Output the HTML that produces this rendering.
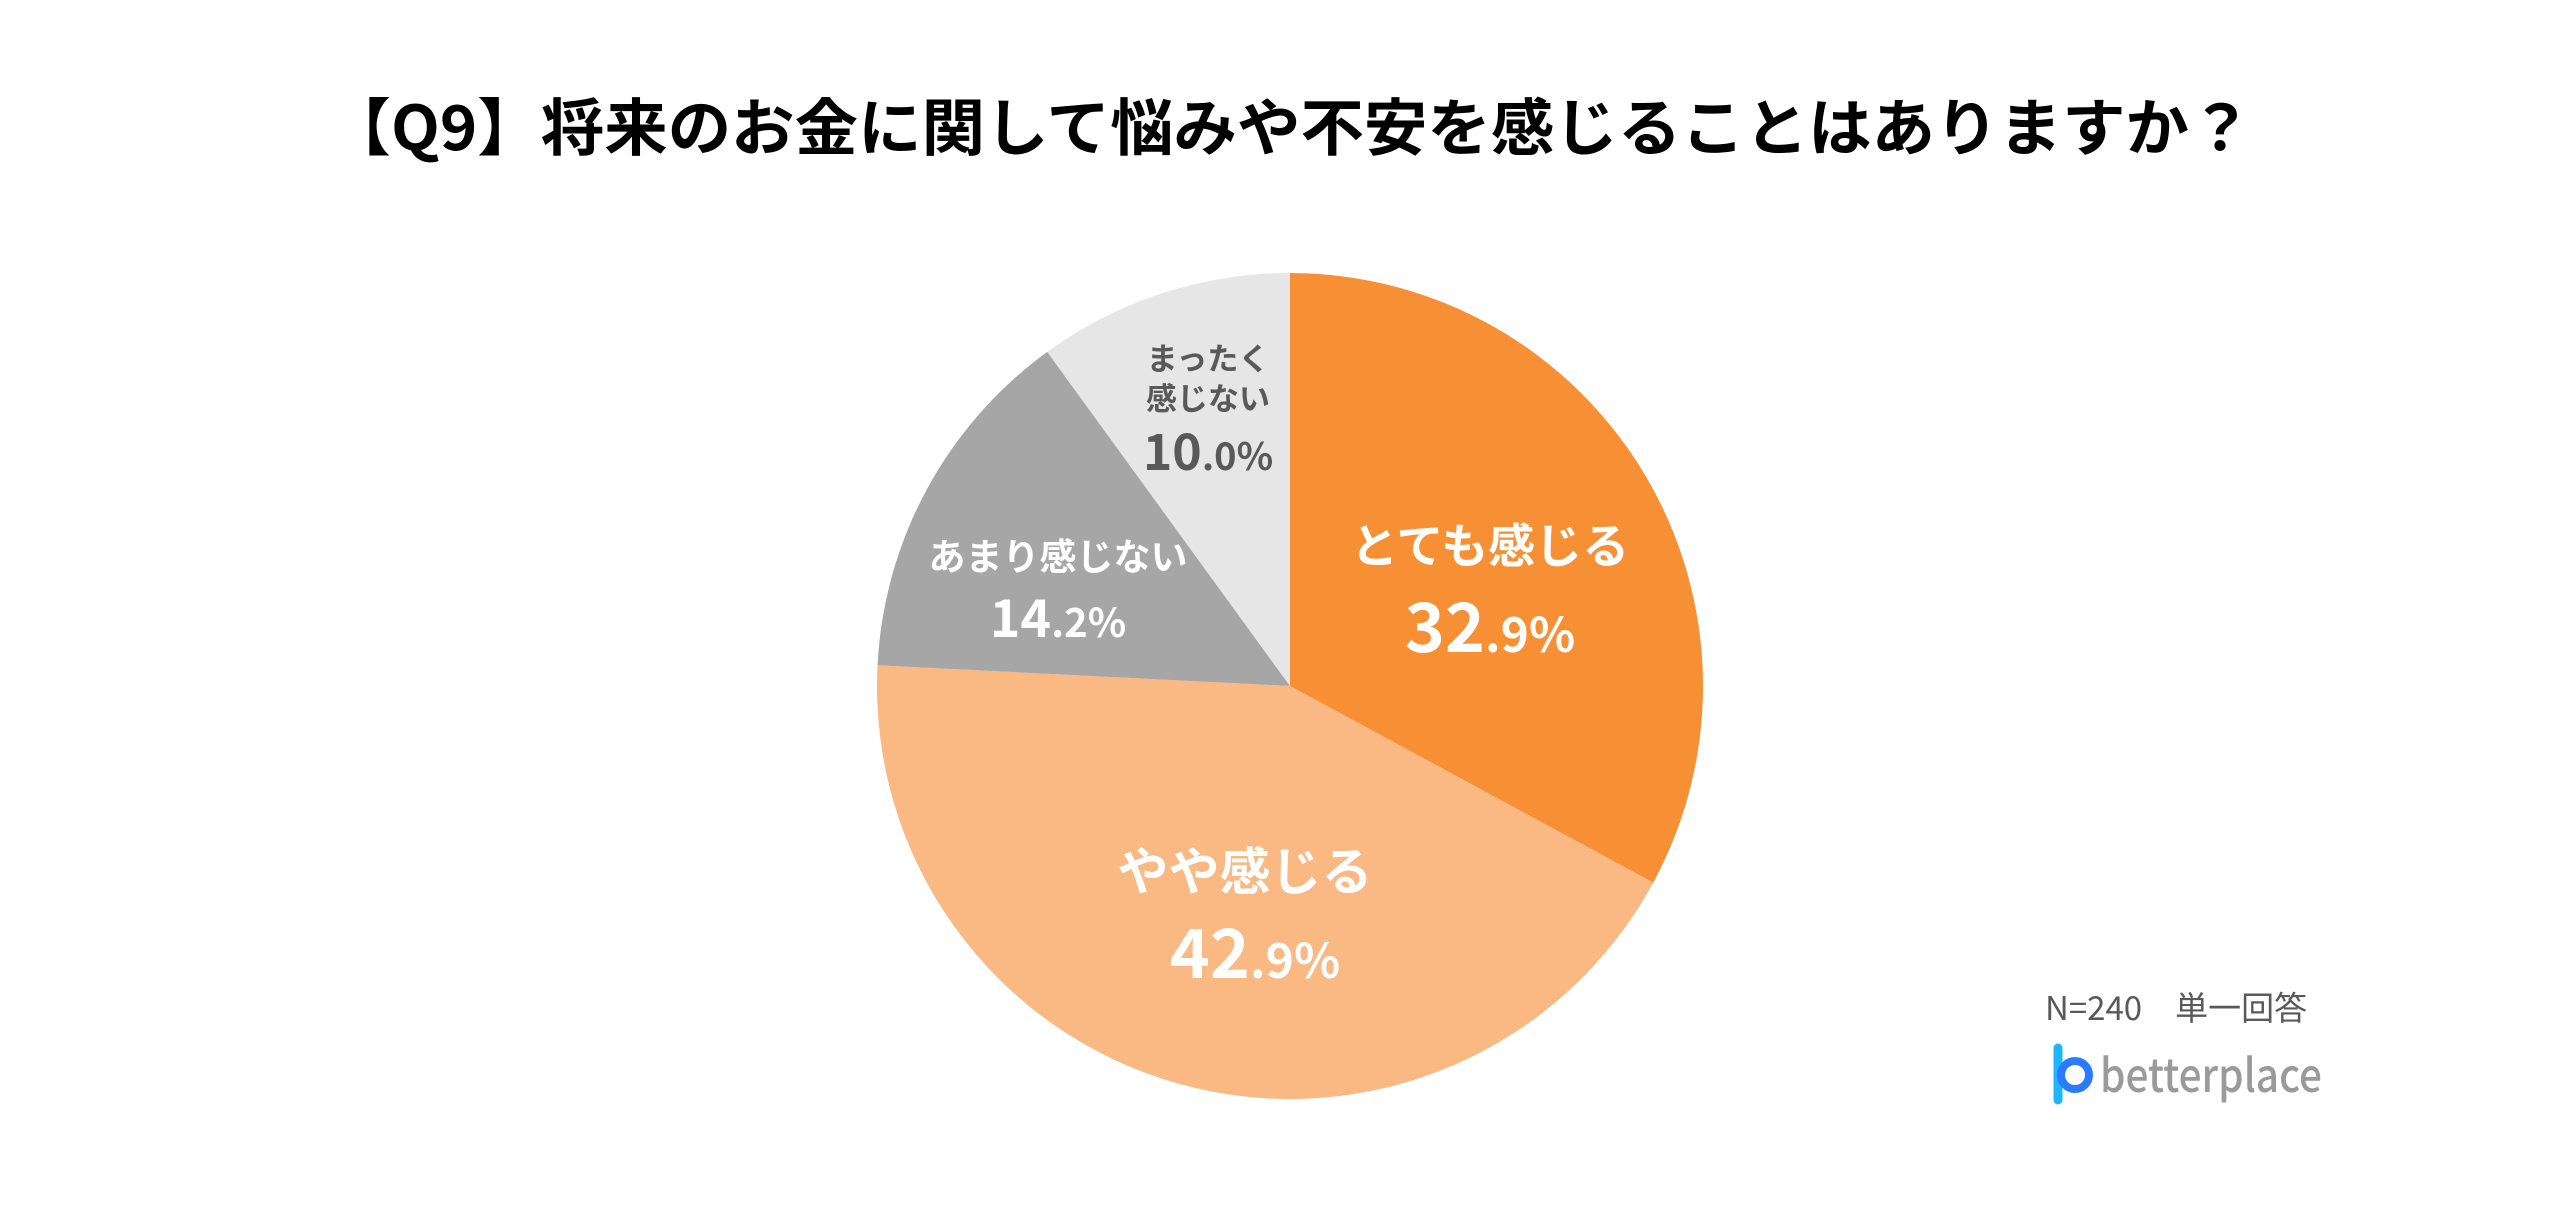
<!DOCTYPE html>
<html><head><meta charset="utf-8"><style>
html,body{margin:0;padding:0;background:#fff;}
svg{display:block;}
text{font-family:"Noto Sans CJK JP","Liberation Sans",sans-serif;}
</style></head><body>
<svg id="chart" width="2560" height="1222" viewBox="0 0 2560 1222" xmlns="http://www.w3.org/2000/svg">
<text x="1290" y="150" text-anchor="middle" font-size="62" font-weight="700" fill="#000" textLength="1925" lengthAdjust="spacingAndGlyphs">【Q9】将来のお金に関して悩みや不安を感じることはありますか？</text>
<g id="slices"></g>
<g id="labels"></g>
<text x="2045" y="1020" font-size="33" fill="#595959">N=240　単一回答</text>
<g>
<path d="M2058 1048 L2058 1100" stroke="#1fb6ff" stroke-width="9" stroke-linecap="round" fill="none"/>
<circle cx="2075" cy="1075" r="14" stroke="#2a7bff" stroke-width="8" fill="none"/>
<text x="2100" y="1092" font-size="46" font-weight="500" fill="#9a9a9a" font-family="Liberation Sans, sans-serif" textLength="222" lengthAdjust="spacingAndGlyphs">betterplace</text>
</g>
</svg>
<script>
const categories = ["とても感じる","やや感じる","あまり感じない","まったく感じない"];
const values = [32.9, 42.9, 14.2, 10.0];
const colors = ["#F79035","#FAB882","#A6A6A6","#E6E6E6"];
const cx = 1290, cy = 686, r = 413;
const NS = "http://www.w3.org/2000/svg";
const total = values.reduce((a,b)=>a+b,0);
function pt(frac){const a = frac*2*Math.PI - Math.PI/2; return [cx + r*Math.cos(a), cy + r*Math.sin(a)];}
let acc = 0;
const g = document.getElementById('slices');
values.forEach((v,i)=>{
  const s = acc/total, e = (acc+v)/total; acc += v;
  const [x1,y1] = pt(s), [x2,y2] = pt(e);
  const large = (e-s) > 0.5 ? 1 : 0;
  const p = document.createElementNS(NS,'path');
  p.setAttribute('d',`M${cx},${cy} L${x1},${y1} A${r},${r} 0 ${large} 1 ${x2},${y2} Z`);
  p.setAttribute('fill',colors[i]);
  
  
  g.appendChild(p);
});
// label layouts (positions only)
const lg = document.getElementById('labels');
const layouts = [
  {lines:[["とても感じる",1490,563,47]], num:[1490,652,68,48], fill:"#fff"},
  {lines:[["やや感じる",1245,890,51]], num:[1255,978,68,48], fill:"#fff"},
  {lines:[["あまり感じない",1058,570,37]], num:[1058,637,52,40], fill:"#fff"},
  {lines:[["まったく",1208,370,31],["感じない",1208,410,31]], num:[1208,470,50,38], fill:"#595959"}
];
values.forEach((v,i)=>{
  const L = layouts[i];
  L.lines.forEach(([t,x,y,fs],j)=>{
    const tx = document.createElementNS(NS,'text');
    tx.setAttribute('x',x); tx.setAttribute('y',y);
    tx.setAttribute('text-anchor','middle'); tx.setAttribute('font-size',fs);
    tx.setAttribute('font-weight','700'); tx.setAttribute('fill',L.fill);
    
    
    tx.textContent = (i===3)? t : categories[i];
    lg.appendChild(tx);
  });
  const [x,y,big,small] = L.num;
  const s = v.toFixed(1); const parts = s.split('.');
  const tx = document.createElementNS(NS,'text');
  tx.setAttribute('x',x); tx.setAttribute('y',y);
  tx.setAttribute('text-anchor','middle'); tx.setAttribute('font-weight','700');
  tx.setAttribute('fill',L.fill);
  
  
  const a = document.createElementNS(NS,'tspan'); a.setAttribute('font-size',big); a.textContent = parts[0];
  const b = document.createElementNS(NS,'tspan'); b.setAttribute('font-size',small); b.textContent = '.'+parts[1]+'%';
  tx.appendChild(a); tx.appendChild(b);
  lg.appendChild(tx);
});
</script>
</body></html>
